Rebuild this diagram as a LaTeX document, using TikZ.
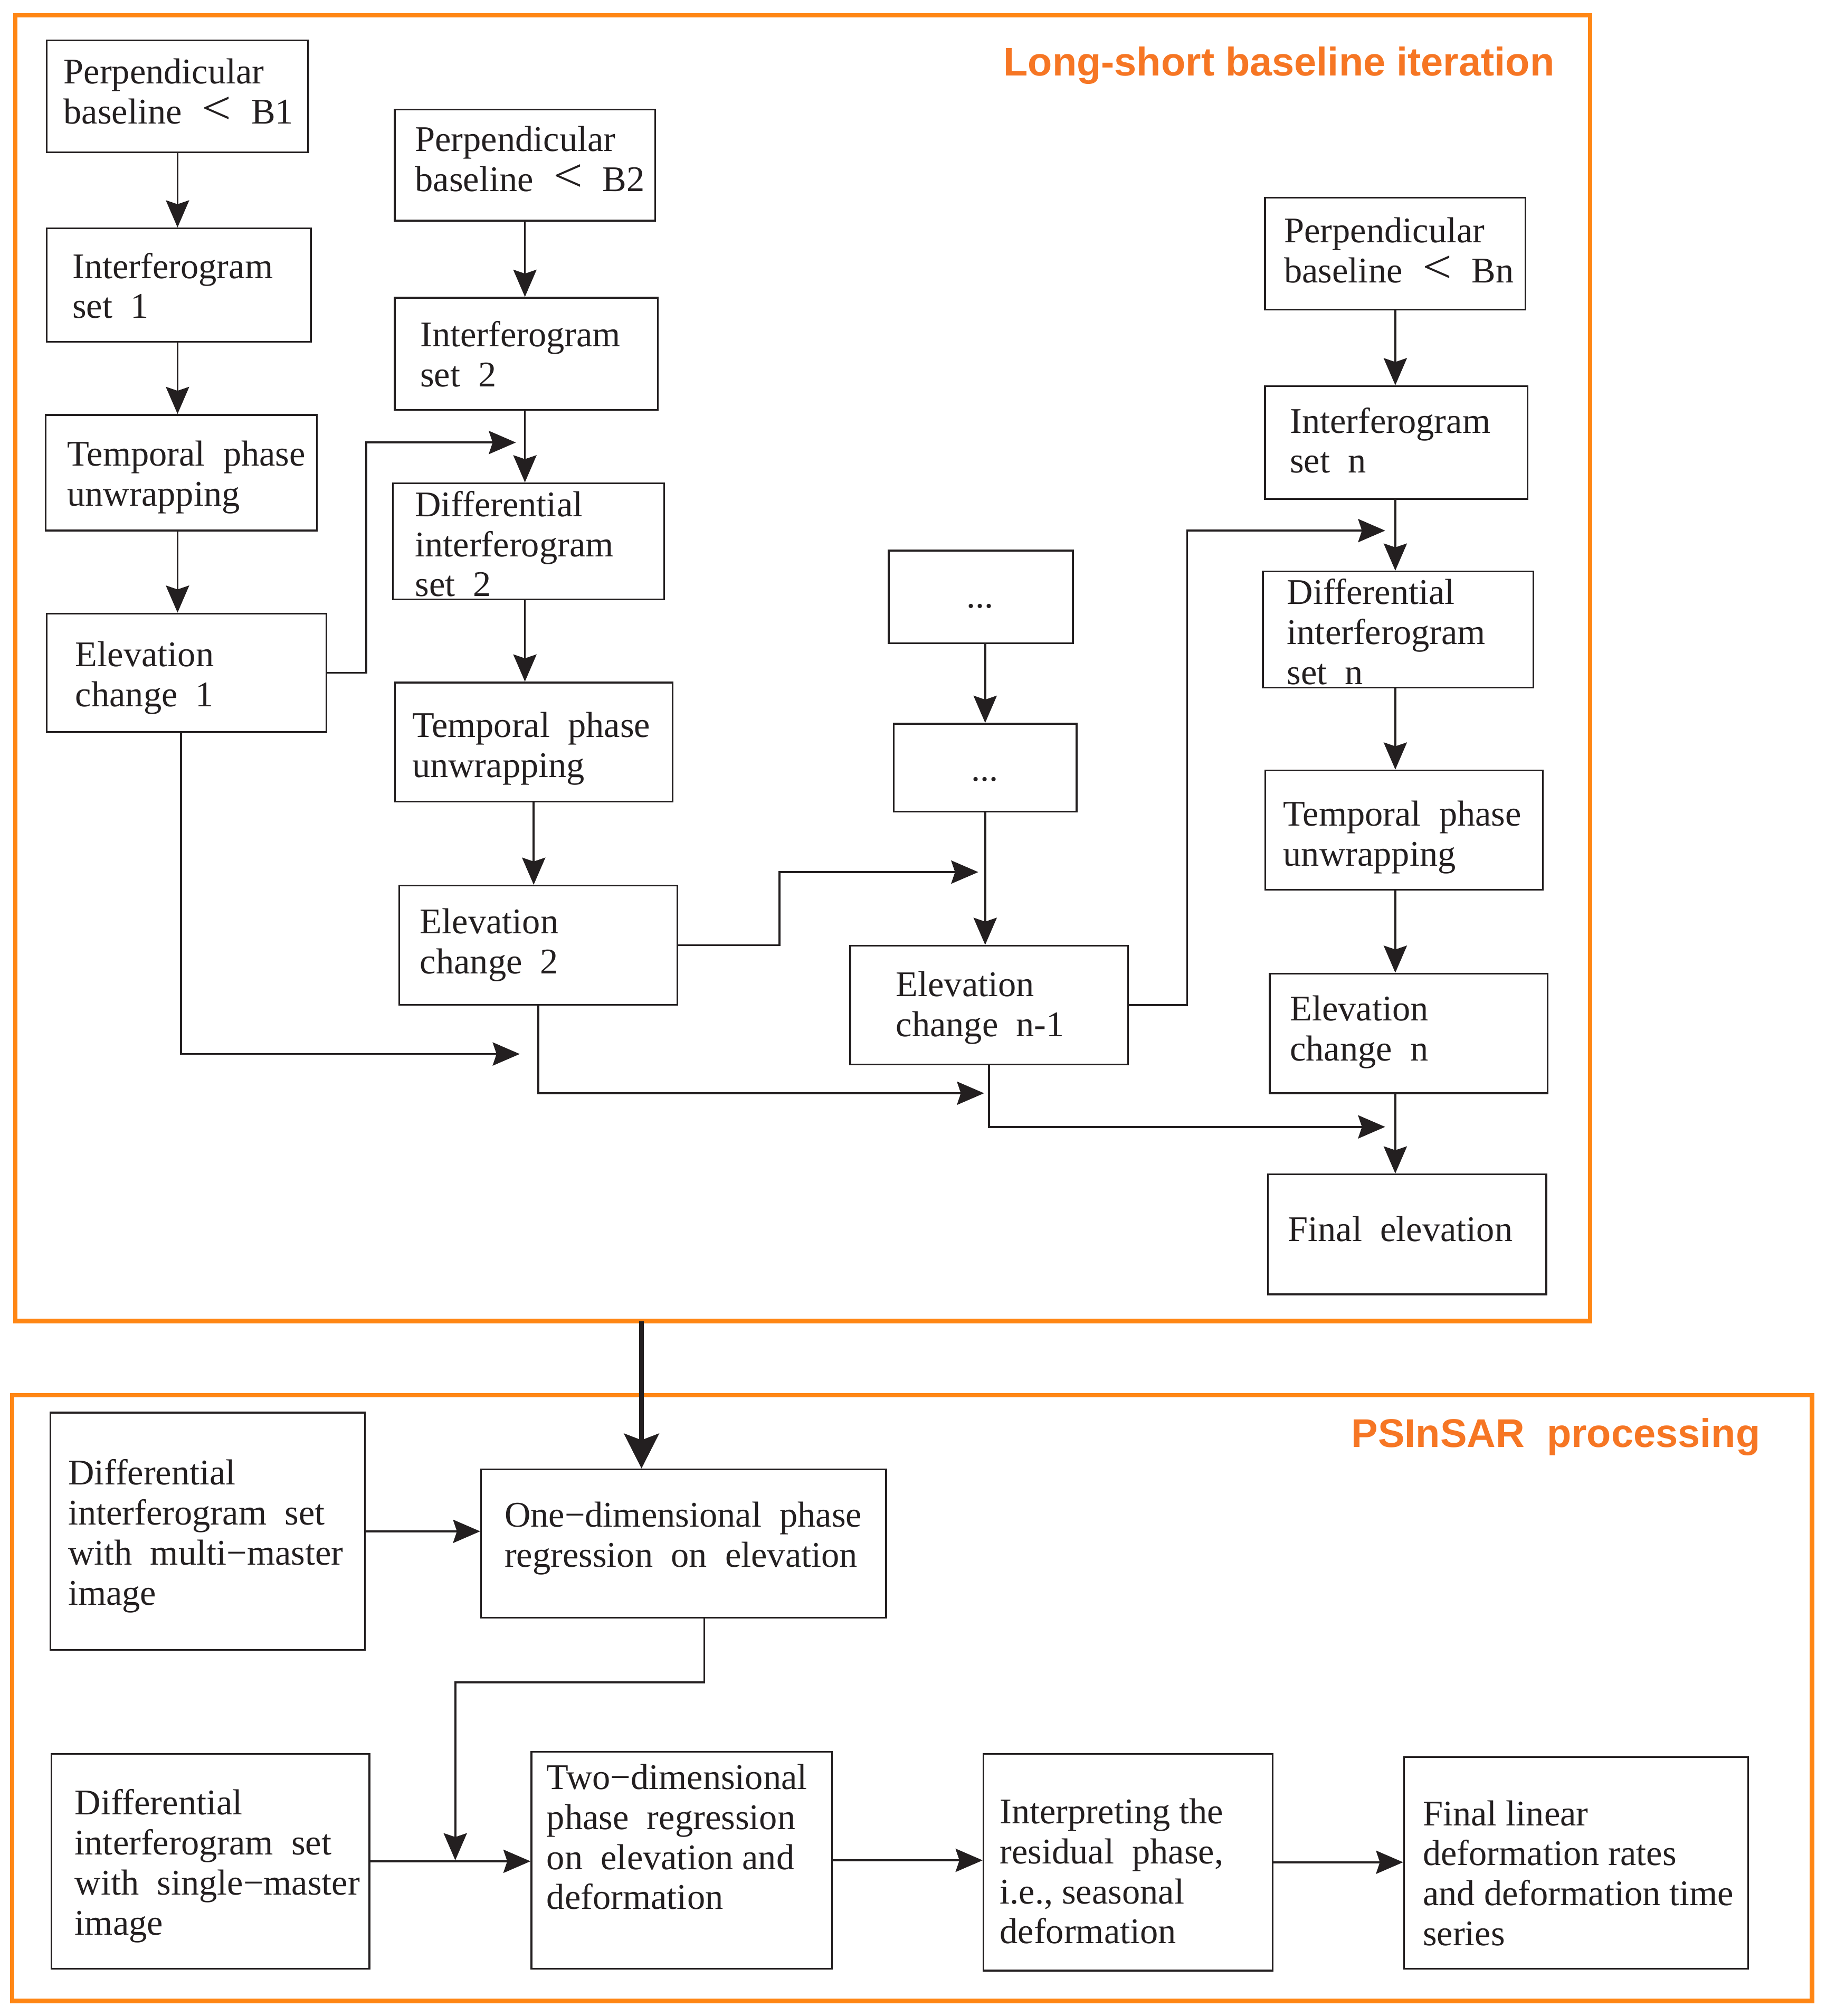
\documentclass[tikz,border=0pt]{standalone}
\usepackage{graphicx}
\usepackage{fontspec}
\setmainfont{Liberation Serif}
\newfontfamily\titlefont{Liberation Sans}
\usetikzlibrary{arrows.meta,fit}
\definecolor{ink}{RGB}{35,31,32}
\definecolor{frameorange}{RGB}{255,134,20}
\definecolor{titleorange}{RGB}{246,118,36}
\newcommand{\widelt}{\hspace{.55em}\scalebox{1.45}[1.3]{<}\hspace{.55em}}

\begin{document}
\begin{tikzpicture}[x=1pt, y=-1pt,
		blk/.style={draw=ink, line width=1.4pt, inner sep=0pt},
		orangebox/.style={draw=frameorange, line width=3.4pt, inner sep=0pt},
		txt/.style={anchor=base west, align=left, inner sep=0pt, text=ink, font=\fontsize{28}{31}\selectfont},
		ttl/.style={anchor=base east, inner sep=0pt, text=titleorange, font=\titlefont\bfseries\fontsize{31}{31}\selectfont},
		arr/.style={draw=ink, line width=1.5pt, -{Stealth[length=21pt, width=18pt, inset=3pt]}},
		bigarr/.style={draw=ink, line width=3.8pt, -{Stealth[length=27pt, width=27pt, inset=5pt]}}]
	\useasboundingbox (0,0) rectangle (1415.4,1562.7);
	% the two frames
	\node[orangebox, fit={(12,12) (1233,1024)}] (lsb) {};
	\node[orangebox, fit={(9.5,1081.5) (1405,1551)}] (psi) {};
	\node[ttl] (lsbt) at (1205.4,58.6) {Long-short baseline iteration};
	\node[ttl] (psit) at (1365,1121.8) {PSInSAR\ \ processing};
	% baseline B1 (text nodes sit on their last line)
	\node[blk, fit={(36.3,31.4) (239,118)}] (pb1) {};
	\node[blk, fit={(36.3,177) (241,265)}] (ig1) {};
	\node[blk, fit={(35.3,321.6) (245.6,411.3)}] (tp1) {};
	\node[blk, fit={(36.3,475.6) (253,567.5)}] (ec1) {};
	\node[txt] (pb1t) at (49.2,96) {Perpendicular\\baseline\widelt B1};
	\node[txt] (ig1t) at (56,246.7) {Interferogram\\set\ \ 1};
	\node[txt] (tp1t) at (52,392.3) {Temporal\ \ phase\\unwrapping};
	\node[txt] (ec1t) at (58.3,547.5) {Elevation\\change\ \ 1};
	% baseline B2
	\node[blk, fit={(306,84.8) (508,171)}] (pb2) {};
	\node[blk, fit={(306,230.8) (510,317.8)}] (ig2) {};
	\node[blk, fit={(304.6,374.6) (515,464.6)}] (dg2) {};
	\node[blk, fit={(306.2,529) (521.4,621.3)}] (tp2) {};
	\node[blk, fit={(309.5,686.5) (525.1,778.8)}] (ec2) {};
	\node[txt] (pb2t) at (321.6,148.3) {Perpendicular\\baseline\widelt B2};
	\node[txt] (ig2t) at (325.6,299.6) {Interferogram\\set\ \ 2};
	\node[txt] (dg2t) at (321.6,462.3) {Differential\\interferogram\\set\ \ 2};
	\node[txt] (tp2t) at (319.4,602.5) {Temporal\ \ phase\\unwrapping};
	\node[txt] (ec2t) at (325.5,754.7) {Elevation\\change\ \ 2};
	% the steps in between
	\node[blk, fit={(689,426.8) (831.8,498.7)}] (dt1) {};
	\node[blk, fit={(693,561) (834.7,629.2)}] (dt2) {};
	\node[blk, fit={(659.2,733.1) (874.6,825.2)}] (ecm) {};
	\node[txt, anchor=base] (dt1t) at (760,471) {...};
	\node[txt, anchor=base] (dt2t) at (763.6,605.5) {...};
	\node[txt] (ecmt) at (694.5,803.5) {Elevation\\change\ \ n-1};
	% baseline Bn
	\node[blk, fit={(980.9,153.2) (1182.8,239.9)}] (pbn) {};
	\node[blk, fit={(980.9,299.3) (1184.5,386.7)}] (ign) {};
	\node[blk, fit={(979.1,443) (1189,533)}] (dgn) {};
	\node[blk, fit={(981,597.2) (1196.3,689.6)}] (tpn) {};
	\node[blk, fit={(984.5,754.7) (1199.9,847.4)}] (ecn) {};
	\node[blk, fit={(983,910.3) (1198.9,1003.3)}] (fel) {};
	\node[txt] (pbnt) at (995.5,219) {Perpendicular\\baseline\widelt Bn};
	\node[txt] (ignt) at (1000,366.6) {Interferogram\\set\ \ n};
	\node[txt] (dgnt) at (997.7,530.4) {Differential\\interferogram\\set\ \ n};
	\node[txt] (tpnt) at (994.8,671.1) {Temporal\ \ phase\\unwrapping};
	\node[txt] (ecnt) at (1000,822.3) {Elevation\\change\ \ n};
	\node[txt] (felt) at (998.4,962) {Final\ \ elevation};
	% PSInSAR steps
	\node[blk, fit={(39,1095) (283,1279)}] (dmm) {};
	\node[blk, fit={(373,1139) (687,1254)}] (ode) {};
	\node[blk, fit={(40,1359.5) (286.5,1526)}] (dsm) {};
	\node[blk, fit={(412,1358) (645,1526)}] (tde) {};
	\node[blk, fit={(762.6,1359.5) (986.7,1527.5)}] (irp) {};
	\node[blk, fit={(1088.6,1362) (1355.4,1526)}] (fld) {};
	\node[txt] (dmmt) at (52.6,1244) {Differential\\interferogram\ \ set\\with\ \ multi−master\\image};
	\node[txt] (odet) at (391,1214.7) {One−dimensional\ \ phase\\regression\ \ on\ \ elevation};
	\node[txt] (dsmt) at (57.8,1499.7) {Differential\\interferogram\ \ set\\with\ \ single−master\\image};
	\node[txt] (tdet) at (423.7,1480) {Two−dimensional\\phase\ \ regression\\on\ \ elevation and\\deformation};
	\node[txt] (irpt) at (775,1506.6) {Interpreting the\\residual\ \ phase,\\i.e., seasonal\\deformation};
	\node[txt] (fldt) at (1103,1508) {Final linear\\deformation rates\\and deformation time\\series};
	% down the columns
	\draw[arr] (pb1.south) -- (ig1.north -| pb1);
	\draw[arr] (ig1.south -| pb1) -- (tp1.north -| pb1);
	\draw[arr] (tp1.south -| pb1) -- (ec1.north -| pb1);
	\draw[arr] (pb2.south) -- (ig2.north -| pb2);
	\draw[arr] (ig2.south -| pb2) -- (dg2.north -| pb2);
	\draw[arr] (dg2.south -| pb2) -- (tp2.north -| pb2);
	\draw[arr] (tp2.south) -- (ec2.north -| tp2);
	\draw[arr] (dt1.south -| dt2) -- (dt2.north);
	\draw[arr] (dt2.south) -- (ecm.north -| dt2);
	\draw[arr] (pbn.south) -- (ign.north -| pbn);
	\draw[arr] (ign.south -| pbn) -- (dgn.north -| pbn);
	\draw[arr] (dgn.south -| pbn) -- (tpn.north -| pbn);
	\draw[arr] (tpn.south -| pbn) -- (ecn.north -| pbn);
	\draw[arr] (ecn.south -| pbn) -- (fel.north -| pbn);
	% each elevation change goes into the next set
	\coordinate (k2) at (284,343);
	\coordinate (j2) at (400,343);
	\draw[arr] (ec1.east) -| (k2) -- (j2);
	\coordinate (k3) at (604.5,676);
	\coordinate (j3) at (758.5,676);
	\draw[arr] (ec2.east) -| (k3) -- (j3);
	\coordinate (k4) at (920.5,411.3);
	\coordinate (j4) at (1074,411.3);
	\draw[arr] (ecm.east) -| (k4) -- (j4);
	% summing up the changes
	\coordinate (a1) at (403,817);
	\coordinate (a2) at (763,847.4);
	\coordinate (a3) at (1074,873.5);
	\draw[arr] (ec1.south -| tp1) |- (a1);
	\draw[arr] (ec2.south) |- (a2);
	\draw[arr] (ecm.south) |- (a3);
	% into PSInSAR
	\coordinate (drop) at (497.4,1024);
	\draw[bigarr] (drop) -- (drop |- ode.north);
	\draw[arr] (dmm.east) -- (dmm.east -| ode.west);
	\coordinate (b1) at (546,1304);
	\coordinate (b2) at (353,1304);
	\coordinate (b3) at (353,1442);
	\draw[arr] (ode.south -| b1) -- (b1) -- (b2) -- (b3);
	\draw[arr] (dsm.east) -- (dsm.east -| tde.west);
	\draw[arr] (tde.east) -- (tde.east -| irp.west);
	\draw[arr] (irp.east) -- (irp.east -| fld.west);
\end{tikzpicture}
\end{document}
